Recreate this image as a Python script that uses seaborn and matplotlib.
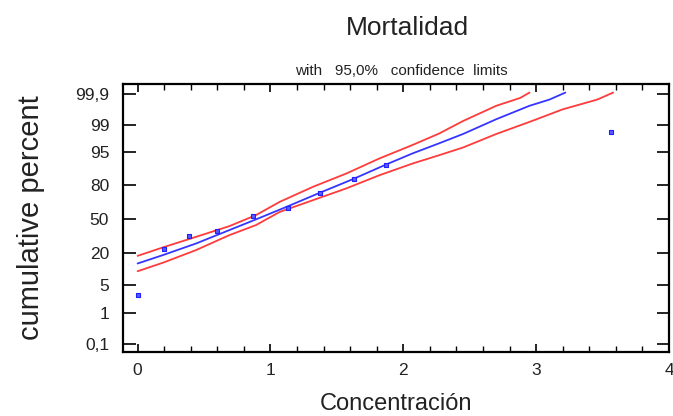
import numpy as np
import matplotlib
matplotlib.use('Agg')
import matplotlib.pyplot as plt
import seaborn as sns
from matplotlib.ticker import FixedLocator, MultipleLocator
from statistics import NormalDist

# observed points (concentration, cumulative percent)
conc_obs = [0.0, 0.20, 0.39, 0.60, 0.87, 1.13, 1.37, 1.63, 1.87, 3.56]
pct_obs = [2.9, 22.4, 33.3, 38.2, 52.5, 60.0, 73.4, 83.6, 90.7, 98.4]

# fitted line
conc_fit = [0.0, 0.19, 0.44, 0.69, 0.89, 1.12, 1.37, 1.62, 1.87, 2.07, 2.27, 2.45, 2.70, 2.95, 3.10, 3.22]
pct_fit = [13.4, 18.4, 27.0, 38.9, 49.3, 61.5, 73.9, 83.6, 91.0, 94.7, 96.9, 98.2, 99.31, 99.74, 99.84, 99.91]

# upper 95% limit
conc_up = [0.0, 0.19, 0.44, 0.69, 0.89, 1.07, 1.32, 1.57, 1.82, 2.07, 2.27, 2.45, 2.70, 2.88, 2.95]
pct_up = [17.9, 23.9, 32.7, 42.7, 53.5, 66.2, 78.5, 86.8, 93.2, 96.6, 98.25, 99.22, 99.74, 99.86, 99.91]

# lower 95% limit
conc_lo = [0.0, 0.19, 0.44, 0.69, 0.89, 1.07, 1.32, 1.57, 1.82, 2.07, 2.27, 2.45, 2.70, 2.95, 3.20, 3.46, 3.58]
pct_lo = [9.7, 13.8, 21.9, 34.2, 43.7, 56.7, 67.7, 77.3, 85.9, 91.4, 94.2, 96.1, 98.2, 99.17, 99.66, 99.84, 99.91]

y_ticks = [0.1, 1, 5, 20, 50, 80, 95, 99, 99.9]
y_ticklabels = ['0,1', '1', '5', '20', '50', '80', '95', '99', '99,9']
x_ticks = [0, 1, 2, 3, 4]

sns.set_style('ticks')
plt.rcParams['font.family'] = ['Liberation Sans', 'DejaVu Sans']

nd = NormalDist()
_fwd = np.vectorize(lambda p: nd.inv_cdf(min(max(p / 100.0, 1e-9), 1 - 1e-9)), otypes=[float])
_inv = np.vectorize(lambda z: nd.cdf(z) * 100.0, otypes=[float])


def probit(p):
    return _fwd(np.asarray(p, dtype=float))


def probit_inv(z):
    return _inv(np.asarray(z, dtype=float))


fig = plt.figure(figsize=(6.73, 4.16), dpi=100)
ax = fig.add_axes([0.1828, 0.1546, 0.8112, 0.6434])

sns.lineplot(x=conc_up, y=pct_up, sort=False, color='#ff3b3b', lw=1.3, ax=ax)
sns.lineplot(x=conc_lo, y=pct_lo, sort=False, color='#ff3b3b', lw=1.3, ax=ax)
sns.lineplot(x=conc_fit, y=pct_fit, sort=False, color='#3535ff', lw=1.3, ax=ax)
sns.scatterplot(x=conc_obs, y=pct_obs, marker='s', s=11, color='#5a5aff',
                edgecolor='#2020ff', linewidth=0.8, ax=ax, zorder=5)

ax.set_yscale('function', functions=(probit, probit_inv))
ax.set_ylim(0.0501, 99.957)
ax.set_xlim(-0.11, 4.0)

ax.yaxis.set_major_locator(FixedLocator(y_ticks))
ax.set_yticklabels(y_ticklabels)
ax.yaxis.set_minor_locator(FixedLocator([]))
ax.set_xticks(x_ticks)
ax.set_xticklabels([str(t) for t in x_ticks])
ax.xaxis.set_minor_locator(MultipleLocator(0.2))

ax.tick_params(axis='both', which='both', direction='in', top=True, right=True,
               colors='black', labelcolor='#222222', labelsize=12.5)
ax.tick_params(axis='y', which='major', length=9, width=1.2, pad=10)
ax.tick_params(axis='x', which='major', length=6, width=1.2, pad=8)
ax.tick_params(axis='x', which='minor', length=4, width=1.0)

for sp in ax.spines.values():
    sp.set_linewidth(1.6)
    sp.set_color('black')

ax.set_xlabel('Concentración', fontsize=17, labelpad=11, color='#222222')
ax.set_ylabel('cumulative percent', fontsize=21, labelpad=22, color='#222222')

fig.text(0.605, 0.915, 'Mortalidad', fontsize=19, ha='center', va='baseline', color='#222222')
fig.text(0.597, 0.819, 'with   95,0%   confidence  limits', fontsize=11, ha='center',
         va='baseline', color='#222222')

fig.savefig('out.png', dpi=100)
